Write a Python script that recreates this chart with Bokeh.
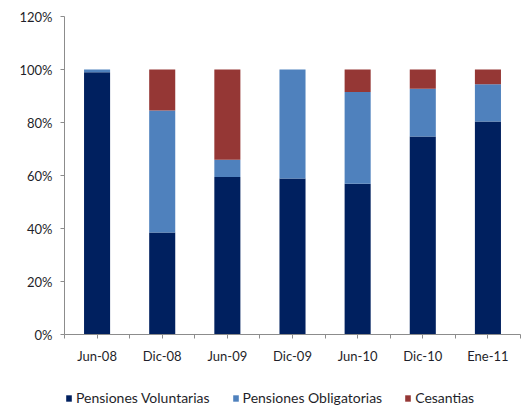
import numpy as np
from bokeh.plotting import figure
from bokeh.layouts import column
from bokeh.models import (ColumnDataSource, Range1d, LinearAxis, FixedTicker,
                          NumeralTickFormatter, Legend, LegendItem)
from bokeh.embed import file_html
from bokeh.resources import INLINE

# Composition by period (share of total)
periods = ["Jun-08", "Dic-08", "Jun-09", "Dic-09", "Jun-10", "Dic-10", "Ene-11"]
voluntarias = [0.99, 0.385, 0.594, 0.589, 0.569, 0.747, 0.804]
obligatorias = [0.01, 0.460, 0.065, 0.411, 0.346, 0.180, 0.140]
cesantias = [0.00, 0.155, 0.341, 0.000, 0.085, 0.073, 0.056]

series = ["voluntarias", "obligatorias", "cesantias"]
labels = ["Pensiones Voluntarias", "Pensiones Obligatorias", "Cesantias"]
colors = ["#00205F", "#4F81BD", "#953735"]

# each period occupies one unit slot; bars sit at slot centres
slot_centres = (np.arange(len(periods)) + 0.5).tolist()
slot_edges = list(range(len(periods) + 1))
source = ColumnDataSource(dict(x=slot_centres, voluntarias=voluntarias,
                               obligatorias=obligatorias, cesantias=cesantias))

FONT = "Lato"
TEXT = "#1F1F2A"
AXIS = "#8C8C8C"

p = figure(width=527, height=366, x_range=Range1d(0, len(periods)), y_range=Range1d(0, 1.2),
           output_backend="svg", toolbar_location=None, x_axis_location=None,
           min_border_left=64, min_border_right=7, min_border_top=16, min_border_bottom=29)
p.outline_line_color = None
p.grid.visible = False

renderers = p.vbar_stack(series, x="x", width=0.4, source=source,
                         color=colors, line_color=None)

# y axis
yax = p.yaxis[0]
yax.ticker = FixedTicker(ticks=[0, 0.2, 0.4, 0.6, 0.8, 1.0, 1.2])
yax.formatter = NumeralTickFormatter(format="0%")
yax.axis_line_color = AXIS
yax.major_tick_line_color = AXIS
yax.major_tick_out = 4
yax.major_tick_in = 0
yax.minor_tick_line_color = None
yax.major_label_standoff = 8
yax.major_label_text_font = FONT
yax.major_label_text_font_size = "13px"
yax.major_label_text_color = TEXT

# period labels at slot centres, with separator ticks at the slot edges
all_ticks = slot_edges + slot_centres
overrides = {e: "" for e in slot_edges}
overrides.update({c: lab for c, lab in zip(slot_centres, periods)})
xax = LinearAxis(ticker=FixedTicker(ticks=all_ticks), major_label_overrides=overrides)
xax.axis_line_color = AXIS
xax.major_tick_line_color = AXIS
xax.major_tick_out = 4
xax.major_tick_in = 0
xax.minor_tick_line_color = None
xax.major_label_standoff = 9
xax.major_label_text_font = FONT
xax.major_label_text_font_size = "13px"
xax.major_label_text_color = TEXT
p.add_layout(xax, "below")

# legend strip beneath the chart; key glyphs are zero-height so only the legend shows them
lg = figure(width=527, height=40, x_range=Range1d(0, 1), y_range=Range1d(0, 1),
            output_backend="svg", toolbar_location=None,
            x_axis_location=None, y_axis_location=None,
            min_border_left=0, min_border_right=0, min_border_top=0, min_border_bottom=0)
lg.outline_line_color = None
lg.grid.visible = False
keys = [lg.vbar(x=[0.5], top=[0], bottom=[0], width=0.1, color=c, line_color=None)
        for c in colors]

legend = Legend(items=[LegendItem(label=l, renderers=[r]) for l, r in zip(labels, keys)],
                orientation="horizontal", location=(1, 0))
legend.border_line_color = None
legend.background_fill_alpha = 0
legend.padding = 0
legend.margin = 0
legend.spacing = 22
legend.glyph_width = 7
legend.glyph_height = 8
legend.label_height = 16
legend.label_standoff = 4
legend.label_text_font = FONT
legend.label_text_font_size = "14px"
legend.label_text_color = TEXT
lg.add_layout(legend, "center")

layout = column(p, lg, spacing=0)
open("out.html", "w").write(file_html(layout, INLINE))
